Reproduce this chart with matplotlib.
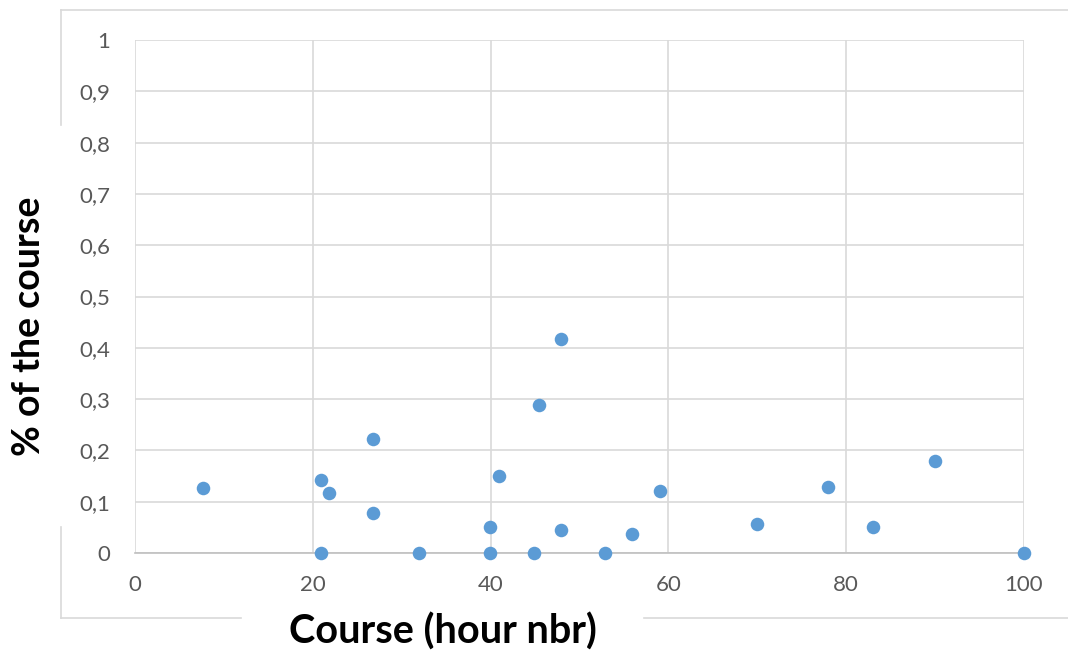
import matplotlib
matplotlib.use('Agg')
import matplotlib.pyplot as plt
from matplotlib.lines import Line2D
import matplotlib.ticker as mtick

# Data: course length (hours) vs share of the course
hours = [7.7, 20.9, 21.8, 26.8, 26.8, 20.9, 31.9, 39.9, 39.9, 40.9, 44.9,
         45.4, 47.9, 47.9, 52.9, 55.9, 59.0, 70.0, 78.0, 83.0, 90.0, 100.0]
share = [0.127, 0.143, 0.117, 0.223, 0.077, 0.0, 0.0, 0.051, 0.0, 0.150, 0.0,
         0.289, 0.418, 0.044, 0.0, 0.038, 0.120, 0.057, 0.129, 0.051, 0.180, 0.0]

x_ticks = [0, 20, 40, 60, 80, 100]
y_ticks = [0, 0.1, 0.2, 0.3, 0.4, 0.5, 0.6, 0.7, 0.8, 0.9, 1.0]

W, H = 1068, 659
dpi = 100
grid_color = '#D9D9D9'
text_color = '#595959'
dot_color = '#5B9BD5'

plt.rcParams['font.family'] = ['Lato', 'DejaVu Sans']

fig = plt.figure(figsize=(W / dpi, H / dpi), dpi=dpi)
ax = fig.add_axes([135 / W, (H - 553) / H, 889 / W, 513 / H])

ax.scatter(hours, share, s=95, color=dot_color, zorder=3, clip_on=False,
           linewidths=0)

ax.set_xlim(0, 100)
ax.set_ylim(0, 1)
ax.set_xticks(x_ticks)
ax.set_yticks(y_ticks)
ax.yaxis.set_major_formatter(mtick.FuncFormatter(
    lambda v, p: ('%g' % round(v, 1)).replace('.', ',')))
ax.xaxis.set_major_formatter(mtick.FuncFormatter(lambda v, p: '%d' % v))

ax.grid(True, color=grid_color, linewidth=1.2)
ax.set_axisbelow(True)
for side in ['top', 'right', 'left']:
    ax.spines[side].set_visible(False)
ax.spines['bottom'].set_color('#BFBFBF')
ax.spines['bottom'].set_linewidth(1.2)
ax.tick_params(axis='both', length=0, labelsize=16, labelcolor=text_color)
ax.tick_params(axis='y', pad=18)
ax.tick_params(axis='x', pad=16)

fig.text(443 / W, 1 - 632 / H, 'Course (hour nbr)', fontsize=28.5,
         fontweight='bold', ha='center', va='center', color='black')
fig.text(29 / W, 1 - 326 / H, '% of the course', fontsize=27,
         fontweight='bold', ha='center', va='center', rotation=90,
         color='black')

# Chart border, broken where the axis titles sit
def px_line(x0, y0, x1, y1):
    fig.add_artist(Line2D([x0 / W, x1 / W], [1 - y0 / H, 1 - y1 / H],
                          transform=fig.transFigure, color=grid_color,
                          linewidth=1.2))

px_line(61, 10, W, 10)
px_line(61, 10, 61, 125)
px_line(61, 527, 61, 618)
px_line(61, 618, 241, 618)
px_line(644, 618, W, 618)

fig.savefig('out.png', dpi=dpi)
